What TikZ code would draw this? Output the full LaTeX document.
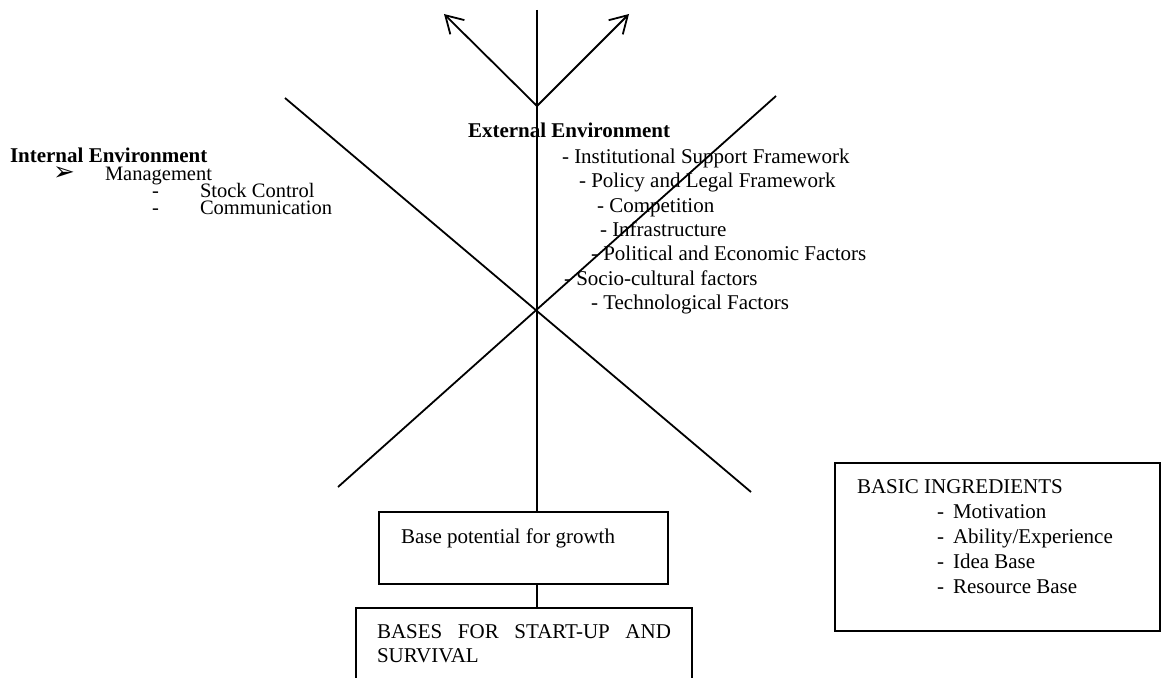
\documentclass[tikz,border=0pt]{standalone}
\usepackage{fontspec}
\setmainfont{Liberation Serif}
\newfontfamily\dingfont{DejaVu Sans}
\usetikzlibrary{arrows.meta}
\begin{document}
\begin{tikzpicture}[x=1pt,y=-1pt,
  every node/.style={inner sep=0pt, outer sep=0pt},
  txt/.style={anchor=base west, font=\fontsize{21}{24}\selectfont},
  tight/.style={anchor=base west, font=\fontsize{20.5}{22}\selectfont, text height=13pt, text depth=3pt},
  hdr/.style={anchor=base west, font=\fontsize{21}{24}\selectfont\bfseries},
  frame/.style={draw, line width=1.8pt, anchor=north west},
  ln/.style={line width=1.8pt},
  up/.style={ln, -{Straight Barb[length=17pt, width=20pt, line width=1.8pt]}},
]
\useasboundingbox (0,0) rectangle (1161,677);

% central axis and the two outward arrows
\coordinate (vtop) at (537,10);
\coordinate (apex) at (537,106);
\coordinate (tipL) at (444,14);
\coordinate (tipR) at (629,14);

% the crossing diagonals
\coordinate (xA1) at (285,98);
\coordinate (xA2) at (751,492);
\coordinate (xB1) at (776,96);
\coordinate (xB2) at (338,487);

% boxes
\node[frame, minimum width=289pt, minimum height=72pt] (grow) at (379,512) {};
\node[frame, minimum width=336pt, minimum height=75pt] (bases) at (356,608) {};
\node[frame, minimum width=325pt, minimum height=168pt] (basic) at (835,463) {};

\draw[up] (apex) -- (tipL);
\draw[up] (apex) -- (tipR);
\draw[ln] (vtop) -- (vtop |- grow.north);
\draw[ln] (vtop |- grow.south) -- (vtop |- bases.north);
\draw[ln] (xA1) -- (xA2);
\draw[ln] (xB1) -- (xB2);

% internal environment
\node[hdr, text height=13pt, text depth=3pt] (intH) at (10,162) {Internal Environment};
\node[anchor=base west, font=\dingfont\fontsize{26}{28}\selectfont, text height=13pt, text depth=2pt] (intB) at (53,180) {➢};
\node[tight] (intM) at (105,180) {Management};
\node[tight] (intD1) at (152,197) {-};
\node[tight] (intS) at (200,197) {Stock Control};
\node[tight] (intD2) at (152,214) {-};
\node[tight] (intC) at (200,214) {Communication};

% external environment
\node[hdr] (extH) at (468,137) {External Environment};
\node[txt] (ext1) at (562,163) {- Institutional Support Framework};
\node[txt] (ext2) at (579,187) {- Policy and Legal Framework};
\node[txt] (ext3) at (597,212) {- Competition};
\node[txt] (ext4) at (600,236) {- Infrastructure};
\node[txt] (ext5) at (591,260) {- Political and Economic Factors};
\node[txt] (ext6) at (564,285) {- Socio-cultural factors};
\node[txt] (ext7) at (591,309) {- Technological Factors};

% box texts
\node[txt] (growT) at (401,543) {Base potential for growth};
\node[txt] (basesT1) at (377,638) {\makebox[294pt][s]{BASES FOR START-UP AND}};
\node[txt] (basesT2) at (377,662) {SURVIVAL};

\node[txt] (basicT) at (857,493) {BASIC INGREDIENTS};
\node[txt] (bd1) at (937,518) {-};
\node[txt] (bi1) at (953,518) {Motivation};
\node[txt] (bd2) at (937,543) {-};
\node[txt] (bi2) at (953,543) {Ability/Experience};
\node[txt] (bd3) at (937,568) {-};
\node[txt] (bi3) at (953,568) {Idea Base};
\node[txt] (bd4) at (937,593) {-};
\node[txt] (bi4) at (953,593) {Resource Base};
\end{tikzpicture}
\end{document}
